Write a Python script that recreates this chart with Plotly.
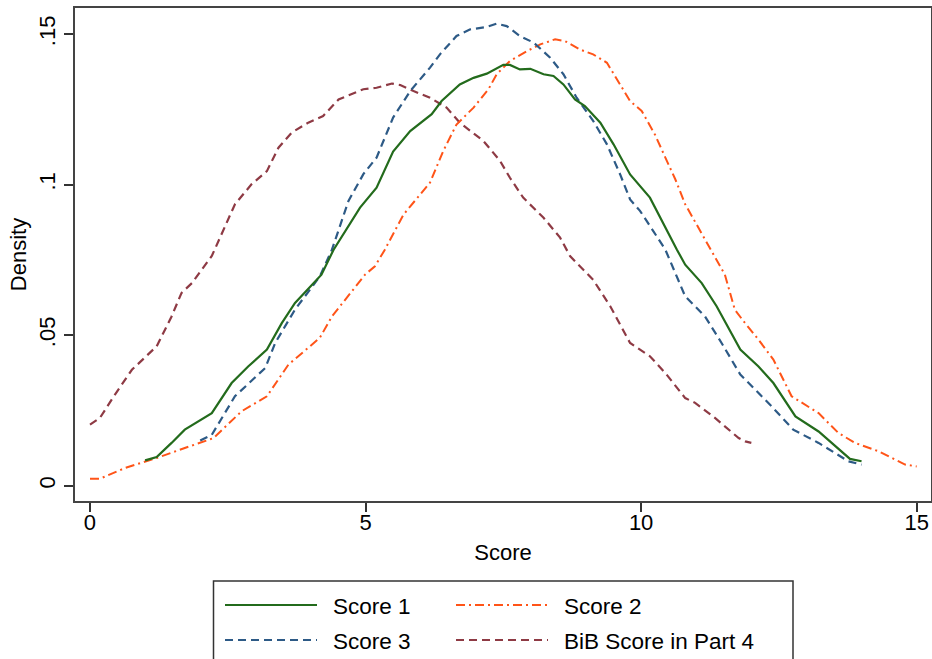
import plotly.graph_objects as go

# ---------------- data ----------------
score1_x = [1.0, 1.21, 1.48, 1.72, 2.21, 2.57, 2.87, 3.21, 3.48, 3.72, 4.2, 4.42, 4.9, 5.2, 5.5,
            5.81, 6.2, 6.38, 6.71, 6.96, 7.2, 7.5, 7.62, 7.8, 7.99, 8.23, 8.41, 8.59, 8.8, 8.98,
            9.26, 9.5, 9.8, 9.95, 10.16, 10.65, 10.8, 11.1, 11.37, 11.8, 12.13, 12.4, 12.8,
            13.22, 13.46, 13.79, 14.0]
score1_y = [0.0084, 0.0095, 0.0142, 0.0186, 0.0241, 0.0341, 0.0396, 0.0452, 0.054, 0.0607,
            0.0701, 0.0784, 0.0924, 0.099, 0.111, 0.1178, 0.1234, 0.1278, 0.1333, 0.1355,
            0.1369, 0.1398, 0.1398, 0.1383, 0.1385, 0.1367, 0.1361, 0.1333, 0.1283, 0.1261,
            0.1206, 0.1134, 0.1034, 0.1001, 0.0957, 0.0784, 0.0734, 0.0673, 0.0596, 0.0452,
            0.0396, 0.0341, 0.023, 0.018, 0.0142, 0.0089, 0.0081]

score2_x = [0.0, 0.18, 0.64, 1.21, 1.72, 2.24, 2.75, 3.21, 3.6, 4.17, 4.39, 4.99, 5.17, 5.35,
            5.69, 6.17, 6.41, 6.65, 6.96, 7.23, 7.38, 7.62, 7.93, 8.17, 8.44, 8.62, 8.89, 9.13,
            9.38, 9.62, 9.8, 10.01, 10.25, 10.44, 10.62, 10.8, 11.04, 11.34, 11.52, 11.7,
            11.86, 12.13, 12.4, 12.73, 13.22, 13.58, 13.88, 14.31, 14.79, 15.0]
score2_y = [0.0023, 0.0023, 0.0059, 0.0092, 0.0125, 0.0158, 0.0247, 0.0297, 0.0402, 0.0491,
            0.0562, 0.0701, 0.0729, 0.0784, 0.0901, 0.1007, 0.1112, 0.12, 0.1256, 0.1317,
            0.1367, 0.1411, 0.1444, 0.1466, 0.1483, 0.1477, 0.1449, 0.1433, 0.1405, 0.1333,
            0.1278, 0.1245, 0.1167, 0.109, 0.1018, 0.0935, 0.0857, 0.0763, 0.0701, 0.0585,
            0.0546, 0.0485, 0.0419, 0.0297, 0.0241, 0.0175, 0.0142, 0.0114, 0.007, 0.0064]

score3_x = [2.0, 2.21, 2.63, 3.18, 3.36, 3.72, 4.17, 4.39, 4.69, 4.96, 5.2, 5.5, 5.81, 6.17,
            6.35, 6.65, 6.9, 7.2, 7.38, 7.56, 7.8, 8.05, 8.35, 8.59, 8.83, 9.13, 9.38, 9.62,
            9.8, 9.98, 10.16, 10.44, 10.8, 11.16, 11.46, 11.8, 12.07, 12.37, 12.76, 13.22,
            13.76, 14.0]
score3_y = [0.015, 0.0169, 0.0297, 0.0391, 0.0474, 0.0585, 0.0695, 0.0784, 0.0946, 0.1035,
            0.109, 0.1223, 0.1311, 0.1389, 0.1433, 0.1494, 0.1516, 0.1524, 0.1535, 0.1527,
            0.1494, 0.1472, 0.1422, 0.1367, 0.1289, 0.1212, 0.1134, 0.1034, 0.0951, 0.0913,
            0.0863, 0.0784, 0.0629, 0.0562, 0.0474, 0.0369, 0.0319, 0.0263, 0.0186, 0.0142,
            0.0081, 0.007]

bib_x = [0.0, 0.18, 0.45, 0.76, 1.21, 1.48, 1.66, 1.85, 2.21, 2.39, 2.63, 2.93, 3.21, 3.42,
         3.66, 3.96, 4.23, 4.51, 4.75, 4.96, 5.2, 5.48, 5.63, 5.87, 6.17, 6.47, 6.71, 6.9,
         7.14, 7.44, 7.62, 7.86, 8.23, 8.53, 8.71, 8.83, 9.13, 9.44, 9.8, 10.16, 10.44, 10.8,
         10.98, 11.34, 11.77, 11.89, 12.0]
bib_y = [0.0203, 0.0225, 0.0302, 0.0385, 0.0463, 0.0562, 0.064, 0.0673, 0.0763, 0.0835,
         0.0935, 0.1001, 0.1045, 0.1123, 0.1173, 0.1206, 0.1228, 0.1283, 0.13, 0.1317,
         0.1322, 0.1336, 0.1331, 0.1311, 0.1289, 0.1256, 0.1206, 0.1178, 0.1145, 0.1079,
         0.1023, 0.0957, 0.089, 0.0824, 0.0763, 0.074, 0.0684, 0.0596, 0.0474, 0.043,
         0.0374, 0.0291, 0.0275, 0.0225, 0.0158, 0.0147, 0.0142]

series_names = ["Score 1", "Score 2", "Score 3", "BiB Score in Part 4"]

x_tick_vals = [0, 5, 10, 15]
x_tick_text = ["0", "5", "10", "15"]
y_tick_vals = [0, 0.05, 0.1, 0.15]
y_tick_text = ["0", ".05", ".1", ".15"]

# ---------------- styles ----------------
GREEN = "#236b1c"
ORANGE = "#ff5418"
NAVY = "#2d5a86"
MAROON = "#8e3a44"
FONT = "Liberation Sans, Arial, sans-serif"
FS = 22

styles = [
    dict(color=GREEN, width=2.2, dash="solid"),
    dict(color=ORANGE, width=2.0, dash="9px,4px,2px,4px"),
    dict(color=NAVY, width=2.2, dash="8px,5px"),
    dict(color=MAROON, width=2.2, dash="8px,5px"),
]
xs = [score1_x, score2_x, score3_x, bib_x]
ys = [score1_y, score2_y, score3_y, bib_y]
order = [3, 1, 2, 0]

fig = go.Figure()
for i in order:
    fig.add_trace(go.Scatter(x=xs[i], y=ys[i], mode="lines", name=series_names[i],
                             line=styles[i], showlegend=False, hoverinfo="skip"))

# plot-area geometry in pixels
L, R, T, B = 75, 931, 8, 501
W, H = 932, 659


def px(xpix):
    return (xpix - L) / (R - L)


def py(ypix):
    return (B - ypix) / (B - T)


fig.update_layout(
    width=W, height=H,
    margin=dict(l=L, r=W - R, t=T, b=H - B, pad=0, autoexpand=False),
    paper_bgcolor="white", plot_bgcolor="white",
    font=dict(family=FONT, size=FS, color="black"),
    showlegend=False,
)
fig.update_xaxes(
    range=[-0.272, 15.26], tickvals=x_tick_vals, ticktext=x_tick_text,
    ticks="outside", ticklen=9, tickwidth=1.5, tickcolor="#333",
    ticklabelstandoff=-8,
    showgrid=False, zeroline=False, automargin=False,
    showline=True, mirror=True, linecolor="#444", linewidth=2,
    title=dict(text="Score", standoff=10, font=dict(size=FS)),
    tickfont=dict(size=FS),
)
fig.update_yaxes(
    range=[-0.0051, 0.1587], tickvals=y_tick_vals, ticktext=y_tick_text,
    ticks="outside", ticklen=9, tickwidth=1.5, tickcolor="#333", tickangle=-90,
    showgrid=False, zeroline=False, automargin=False,
    showline=True, mirror=True, linecolor="#444", linewidth=2,
    title=dict(text="Density", standoff=3, font=dict(size=FS)),
    tickfont=dict(size=FS),
)

# ---------------- legend (custom, Stata style) ----------------
shapes = [dict(type="rect", xref="paper", yref="paper",
               x0=px(213.5), x1=px(793), y0=py(581), y1=py(720),
               line=dict(color="#333", width=1.5), fillcolor="white", layer="below")]
annotations = []
legend_pos = [(225, 317, 331, 605), (456, 548, 562, 605),
              (225, 317, 331, 640), (456, 548, 562, 640)]
for i, (lx0, lx1, tx, ly) in enumerate(legend_pos):
    st = styles[i]
    shapes.append(dict(type="line", xref="paper", yref="paper",
                       x0=px(lx0), x1=px(lx1), y0=py(ly), y1=py(ly),
                       line=dict(color=st["color"], width=st["width"], dash=st["dash"])))
    annotations.append(dict(xref="paper", yref="paper", x=px(tx), y=py(ly + 1),
                            text=series_names[i], showarrow=False,
                            xanchor="left", yanchor="middle",
                            font=dict(size=22.5, family=FONT, color="black")))

fig.update_layout(shapes=shapes, annotations=annotations)
fig.write_html(
    "out.html",
    config={"displayModeBar": False},
    post_script="document.body.style.margin='0px';document.body.style.overflow='hidden';",
)
